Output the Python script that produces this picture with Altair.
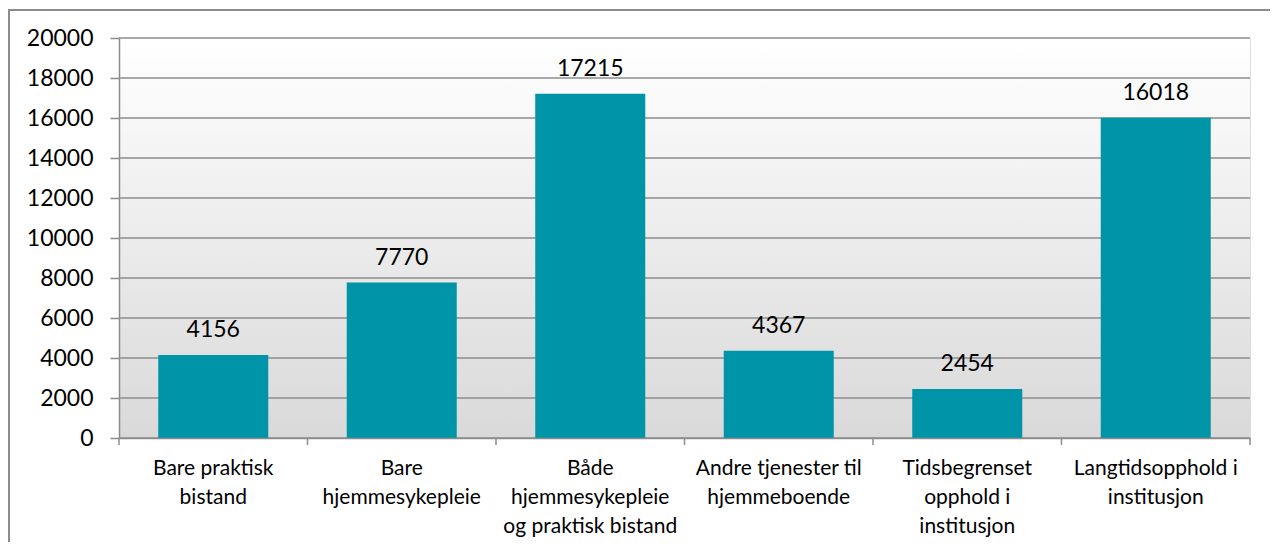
import altair as alt
import pandas as pd

categories = [
    "Bare praktisk|bistand",
    "Bare|hjemmesykepleie",
    "Både|hjemmesykepleie|og praktisk bistand",
    "Andre tjenester til|hjemmeboende",
    "Tidsbegrenset|opphold i|institusjon",
    "Langtidsopphold i|institusjon",
]
values = [4156, 7770, 17215, 4367, 2454, 16018]
y_ticks = [0, 2000, 4000, 6000, 8000, 10000, 12000, 14000, 16000, 18000, 20000]
boundaries = [0, 1, 2, 3, 4, 5, 6]

W, H = 1131, 400
FONT = "Lato"
GRID = "#8c8c8c"
BAR = "#0094a8"

df = pd.DataFrame({"cat": categories, "val": values})
grid_df = pd.DataFrame({"val": y_ticks})
bnd_df = pd.DataFrame({"k": boundaries})

xscale = alt.Scale(domain=categories, paddingInner=0.4164, paddingOuter=0.2082)
yscale = alt.Scale(domain=[0, 20000], nice=False)
yaxis = alt.Axis(
    title=None, values=y_ticks, format="d", grid=False, domainColor=GRID, domainWidth=1.5,
    tickColor=GRID, tickWidth=1.5, tickSize=9, labelFont=FONT, labelFontSize=23,
    labelFontWeight="normal", labelColor="#000000", labelPadding=17, zindex=1)

bg = alt.Chart(pd.DataFrame({"a": [0]})).mark_rect(
    fill=alt.LinearGradient(
        gradient="linear", x1=0, x2=0, y1=0, y2=1,
        stops=[alt.GradientStop(offset=0, color="#ffffff"),
               alt.GradientStop(offset=1, color="#d9d9d9")],
    )
).encode(x=alt.value(0), x2=alt.value(W), y=alt.value(0), y2=alt.value(H))

border = alt.Chart(pd.DataFrame({"a": [0]})).mark_rect(
    fill="transparent", stroke="#8c8c8c", strokeWidth=2
).encode(x=alt.value(-110), x2=alt.value(1157), y=alt.value(-28), y2=alt.value(560))

grid = alt.Chart(grid_df).mark_rule(color=GRID, strokeWidth=1.5).encode(
    y=alt.Y("val:Q", scale=yscale, axis=yaxis),
    x=alt.value(0), x2=alt.value(W),
)

bars = alt.Chart(df).mark_bar(color=BAR).encode(
    x=alt.X("cat:N", scale=xscale, sort=categories, axis=alt.Axis(
        title=None, labelAngle=0, ticks=False, domain=True, domainColor=GRID,
        domainWidth=1.5, labelExpr="split(datum.label, '|')", labelFont=FONT,
        labelFontSize=21, labelFontWeight="normal", labelLineHeight=29,
        labelColor="#000000", labelPadding=19, labelLimit=400, zindex=1, grid=False)),
    y=alt.Y("val:Q", scale=yscale, axis=yaxis),
)

labels = alt.Chart(df).mark_text(
    font=FONT, fontSize=23, color="#000000", dy=-18, baseline="alphabetic"
).encode(
    x=alt.X("cat:N", scale=xscale, sort=categories),
    y=alt.Y("val:Q", scale=yscale, axis=yaxis),
    text=alt.Text("val:Q", format="d"),
)

ticks = alt.Chart(bnd_df).mark_rule(color=GRID, strokeWidth=1.5).encode(
    x=alt.X("k:Q", scale=alt.Scale(domain=[0, 6], nice=False, zero=False), axis=None),
    y=alt.value(H), y2=alt.value(H + 7),
)

main = alt.layer(bg, grid, bars, labels)
chart = alt.layer(main, ticks, border).resolve_scale(x="independent").properties(
    width=W, height=H,
    autosize=alt.AutoSizeParams(type="none"),
    padding={"left": 111, "top": 30, "right": 20, "bottom": 104},
).configure_view(stroke=None).configure(background="#ffffff")

chart.save("out.html", embed_options={"renderer": "svg", "actions": False})
